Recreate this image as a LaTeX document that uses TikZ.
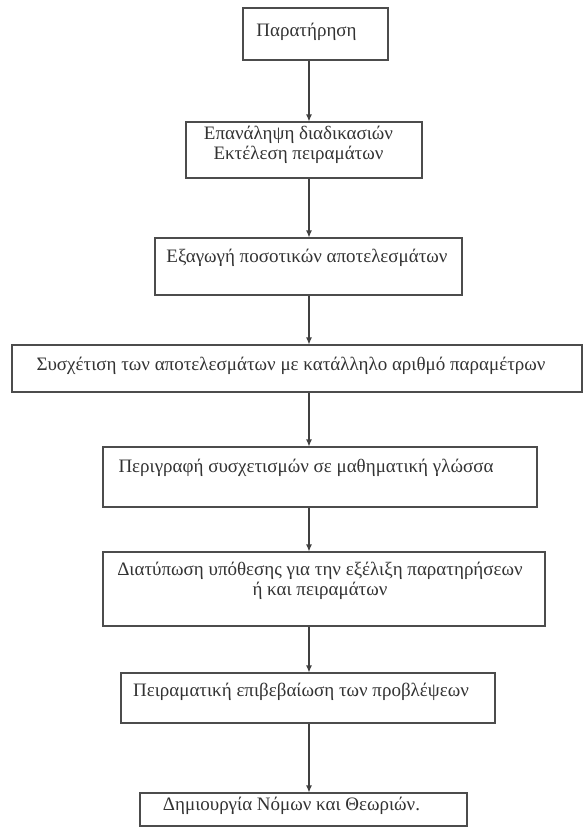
\documentclass[tikz,border=0pt]{standalone}
\usepackage{fontspec}
\setmainfont{Liberation Serif}
\usetikzlibrary{arrows.meta}
\begin{document}
\begin{tikzpicture}[x=1pt,y=-1pt,
  box/.style={draw=black!70, line width=1.1pt, rectangle, inner sep=0pt},
  lab/.style={inner sep=0pt, align=center, font=\fontsize{19}{20}\selectfont, text=black!80},
  arr/.style={draw=black!75, line width=1.1pt, -{Latex[length=7pt,width=6pt]}}]
\useasboundingbox[fill=white] (0,0) rectangle (585,831);
\coordinate (ax) at (309,0);
\node[box, minimum width=145pt, minimum height=52pt,
  label={[lab,xshift=-9pt,yshift=2pt]center:Παρατήρηση}] (b1) at (315.5,34) {};
\node[box, minimum width=236pt, minimum height=56pt,
  label={[lab,xshift=-5.5pt,yshift=5pt]center:Επανάληψη διαδικασιών\\Εκτέλεση πειραμάτων}] (b2) at (304,150) {};
\node[box, minimum width=307pt, minimum height=57pt,
  label={[lab,xshift=-1.5pt,yshift=8.5pt]center:Εξαγωγή ποσοτικών αποτελεσμάτων}] (b3) at (308.5,266.5) {};
\node[box, minimum width=570pt, minimum height=47pt,
  label={[lab,xshift=-6pt,yshift=2.5pt]center:Συσχέτιση των αποτελεσμάτων με κατάλληλο αριθμό παραμέτρων}] (b4) at (297,368.5) {};
\node[box, minimum width=434pt, minimum height=60pt,
  label={[lab,xshift=-14pt,yshift=9pt]center:Περιγραφή συσχετισμών σε μαθηματική γλώσσα}] (b5) at (320,477) {};
\node[box, minimum width=442pt, minimum height=74pt,
  label={[lab,xshift=-4pt,yshift=8pt]center:Διατύπωση υπόθεσης για την εξέλιξη παρατηρήσεων\\ή και πειραμάτων}] (b6) at (324,589) {};
\node[box, minimum width=374pt, minimum height=50pt,
  label={[lab,xshift=-7pt,yshift=6pt]center:Πειραματική επιβεβαίωση των προβλέψεων}] (b7) at (308,698) {};
\node[box, minimum width=327pt, minimum height=33pt,
  label={[lab,xshift=-12pt,yshift=3.5pt]center:Δημιουργία Νόμων και Θεωριών.}] (b8) at (303.5,809.5) {};
\draw[arr] (b1.south -| ax) -- (b2.north -| ax);
\draw[arr] (b2.south -| ax) -- (b3.north -| ax);
\draw[arr] (b3.south -| ax) -- (b4.north -| ax);
\draw[arr] (b4.south -| ax) -- (b5.north -| ax);
\draw[arr] (b5.south -| ax) -- (b6.north -| ax);
\draw[arr] (b6.south -| ax) -- (b7.north -| ax);
\draw[arr] (b7.south -| ax) -- (b8.north -| ax);
\end{tikzpicture}
\end{document}
